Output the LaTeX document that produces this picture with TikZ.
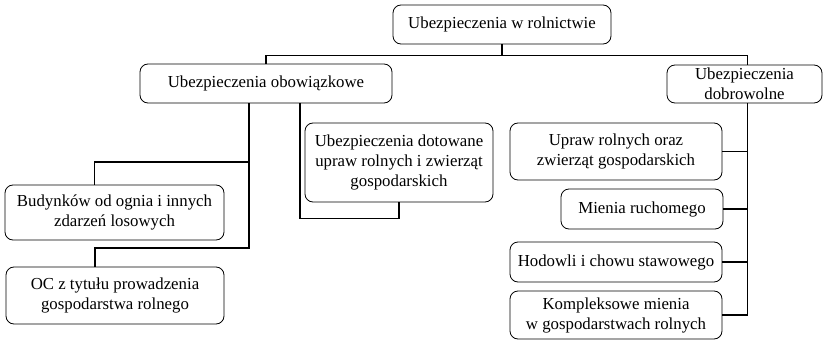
\documentclass[tikz,border=0pt]{standalone}
\usepackage{fontspec}
\setmainfont{Liberation Serif}
\usetikzlibrary{positioning}
\tikzset{
  box/.style={draw, line width=0.8pt, rounded corners=8pt, align=center, inner sep=2pt},
  link/.style={line width=1.3pt}
}
\begin{document}
\begin{tikzpicture}[x=1pt, y=-1pt, font=\fontsize{16.8}{20}\selectfont]
            \useasboundingbox (0,0) rectangle (823,340);
            % main levels
            \node[box, minimum width=218pt, minimum height=39pt] (rol) at (502,24.5) {Ubezpieczenia w rolnictwie};
            \node[box, minimum width=252pt, minimum height=39pt] (obow) at (266,83.5) {Ubezpieczenia obowiązkowe};
            \node[box, minimum width=155pt, minimum height=38pt] (dobr) at (744.5,84) {Ubezpieczenia\\dobrowolne};
            % obowiazkowe
            \node[box, minimum width=219pt, minimum height=55pt] (bud) at (114.5,212.5) {Budynków od ognia i innych\\zdarzeń losowych};
            \node[box, minimum width=218pt, minimum height=57pt] (oc) at (115,295.5) {OC z tytułu prowadzenia\\gospodarstwa rolnego};
            \node[box, minimum width=188pt, minimum height=79pt] (dot) at (399,162.5) {Ubezpieczenia dotowane\\upraw rolnych i zwierząt\\gospodarskich};
            % dobrowolne
            \node[box, minimum width=212pt, minimum height=57pt] (upr) at (616,151.5) {Upraw rolnych oraz\\zwierząt gospodarskich};
            \node[box, minimum width=162pt, minimum height=40pt] (mie) at (642,209) {Mienia ruchomego};
            \node[box, minimum width=212pt, minimum height=40pt] (hod) at (616,262) {Hodowli i chowu stawowego};
            \node[box, minimum width=212pt, minimum height=48pt] (kom) at (616,315) {Kompleksowe mienia\\w gospodarstwach rolnych};
            % connectors
            \draw[link] (rol.south) -- ++(0,11) coordinate (bus);
            \draw[link] (obow.north) |- (bus) -| ([xshift=3pt]dobr.north);
            \coordinate (bL) at (249,162);
            \coordinate (oL) at (249,248);
            \draw[link] ([xshift=-17pt]obow.south) -- (oL) -| ([xshift=-20pt]oc.north);
            \draw[link] (bL) -| ([xshift=-20pt]bud.north);
            \draw[link] ([xshift=34pt]obow.south) |- ([yshift=-16pt]dot.south) -- (dot.south);
            \coordinate (rR) at ([xshift=3pt]dobr.south);
            \draw[link] (rR) |- (kom.east);
            \draw[link] (upr.east) -- (upr.east -| rR);
            \draw[link] (mie.east) -- (mie.east -| rR);
            \draw[link] (hod.east) -- (hod.east -| rR);
        \end{tikzpicture}
\end{document}
